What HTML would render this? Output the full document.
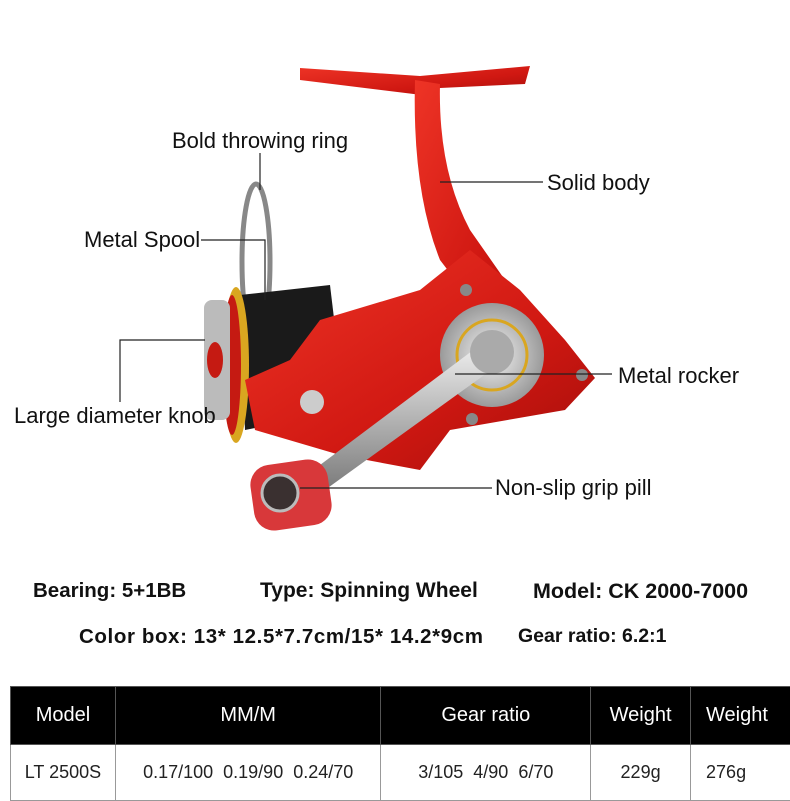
<!DOCTYPE html>
<html><head><meta charset="utf-8"><style>
body{margin:0;width:790px;height:799px;background:#fff;overflow:hidden;position:relative;font-family:"Liberation Sans",sans-serif}
.t{position:absolute;white-space:nowrap}
.lab{font-size:22px;color:#111}
.b{font-weight:bold;font-size:19px;color:#111}
table{position:absolute;left:10px;top:686px;border-collapse:collapse;width:790px}
td{text-align:center;border:1px solid #999;padding:0}
tr.h td{background:#000;color:#fff;height:57px;font-size:20px;border-color:#555}
tr.r td{height:55px;font-size:18px;color:#222}
</style></head><body>
<svg width="790" height="680" style="position:absolute;left:0;top:0">
<defs>
<linearGradient id="red" x1="0" y1="0" x2="1" y2="1"><stop offset="0" stop-color="#ee3426"/><stop offset="0.6" stop-color="#d01812"/><stop offset="1" stop-color="#a40e0a"/></linearGradient>
<radialGradient id="sil"><stop offset="0" stop-color="#f4f4f4"/><stop offset="1" stop-color="#9a9a9a"/></radialGradient>
<linearGradient id="arm" x1="0" y1="0" x2="0" y2="1"><stop offset="0" stop-color="#eee"/><stop offset="1" stop-color="#777"/></linearGradient>
</defs>
<path d="M300 68 L420 76 L530 66 L525 84 L440 88 L430 96 L300 80 Z" fill="url(#red)"/>
<path d="M415 80 L440 84 Q438 170 470 230 L540 330 L505 345 L440 260 Q412 190 415 80 Z" fill="url(#red)"/>
<ellipse cx="256" cy="262" rx="14" ry="78" fill="none" stroke="#888" stroke-width="5"/>
<path d="M240 295 L330 285 L345 410 L245 430 Z" fill="#1a1a1a"/>
<ellipse cx="236" cy="365" rx="13" ry="78" fill="#d9a620"/>
<ellipse cx="232" cy="365" rx="9" ry="70" fill="#c51a12"/>
<rect x="204" y="300" width="26" height="120" rx="8" fill="#bbb"/>
<ellipse cx="215" cy="360" rx="8" ry="18" fill="#c51a12"/>
<path d="M320 320 L420 290 L470 250 L520 290 L565 340 L595 378 L565 410 L450 430 L420 470 L340 455 L255 430 L245 380 L290 360 Z" fill="url(#red)"/>
<circle cx="492" cy="355" r="52" fill="url(#sil)"/>
<circle cx="492" cy="355" r="35" fill="none" stroke="#d9a620" stroke-width="3"/>
<path d="M300 480 L480 345 L505 360 L318 495 Z" fill="url(#arm)"/>
<circle cx="492" cy="352" r="22" fill="#aaa"/>
<rect x="252" y="462" width="78" height="66" rx="20" fill="#d8383a" transform="rotate(-8 291 495)"/>
<circle cx="280" cy="493" r="18" fill="#3a3030" stroke="#bbb" stroke-width="3"/>
<circle cx="312" cy="402" r="12" fill="#ccc"/>
<circle cx="466" cy="290" r="6" fill="#888"/><circle cx="582" cy="375" r="6" fill="#888"/><circle cx="472" cy="419" r="6" fill="#888"/>
<g stroke="#222" stroke-width="1.2" fill="none">
<path d="M260 153 V190"/>
<path d="M201 240 H265 V300"/>
<path d="M440 182 H543"/>
<path d="M455 374 H612"/>
<path d="M205 340 H120 V402"/>
<path d="M300 488 H492"/>
</g>
</svg>
<div class="t lab" style="left:172px;top:128px">Bold throwing ring</div>
<div class="t lab" style="left:84px;top:227px">Metal Spool</div>
<div class="t lab" style="left:547px;top:170px">Solid body</div>
<div class="t lab" style="left:618px;top:363px">Metal rocker</div>
<div class="t lab" style="left:14px;top:403px">Large diameter knob</div>
<div class="t lab" style="left:495px;top:475px">Non-slip grip pill</div>
<div class="t b" style="left:33px;top:579px;font-size:20.5px">Bearing: 5+1BB</div>
<div class="t b" style="left:260px;top:579px;font-size:21px">Type: Spinning Wheel</div>
<div class="t b" style="left:533px;top:579px;font-size:21.5px">Model: CK 2000-7000</div>
<div class="t b" style="left:79px;top:625px;font-size:20.5px;letter-spacing:0.6px">Color box: 13* 12.5*7.7cm/15* 14.2*9cm</div>
<div class="t b" style="left:518px;top:625px;font-size:19.5px">Gear ratio: 6.2:1</div>
<table>
<colgroup><col style="width:105px"><col style="width:266px"><col style="width:210px"><col style="width:100px"><col style="width:109px"></colgroup>
<tr class="h"><td>Model</td><td>MM/M</td><td>Gear ratio</td><td>Weight</td><td style="text-align:left;padding-left:15px">Weight</td></tr>
<tr class="r"><td>LT 2500S</td><td>0.17/100&nbsp; 0.19/90&nbsp; 0.24/70</td><td>3/105&nbsp; 4/90&nbsp; 6/70</td><td>229g</td><td style="text-align:left;padding-left:15px">276g</td></tr>
</table>
</body></html>
